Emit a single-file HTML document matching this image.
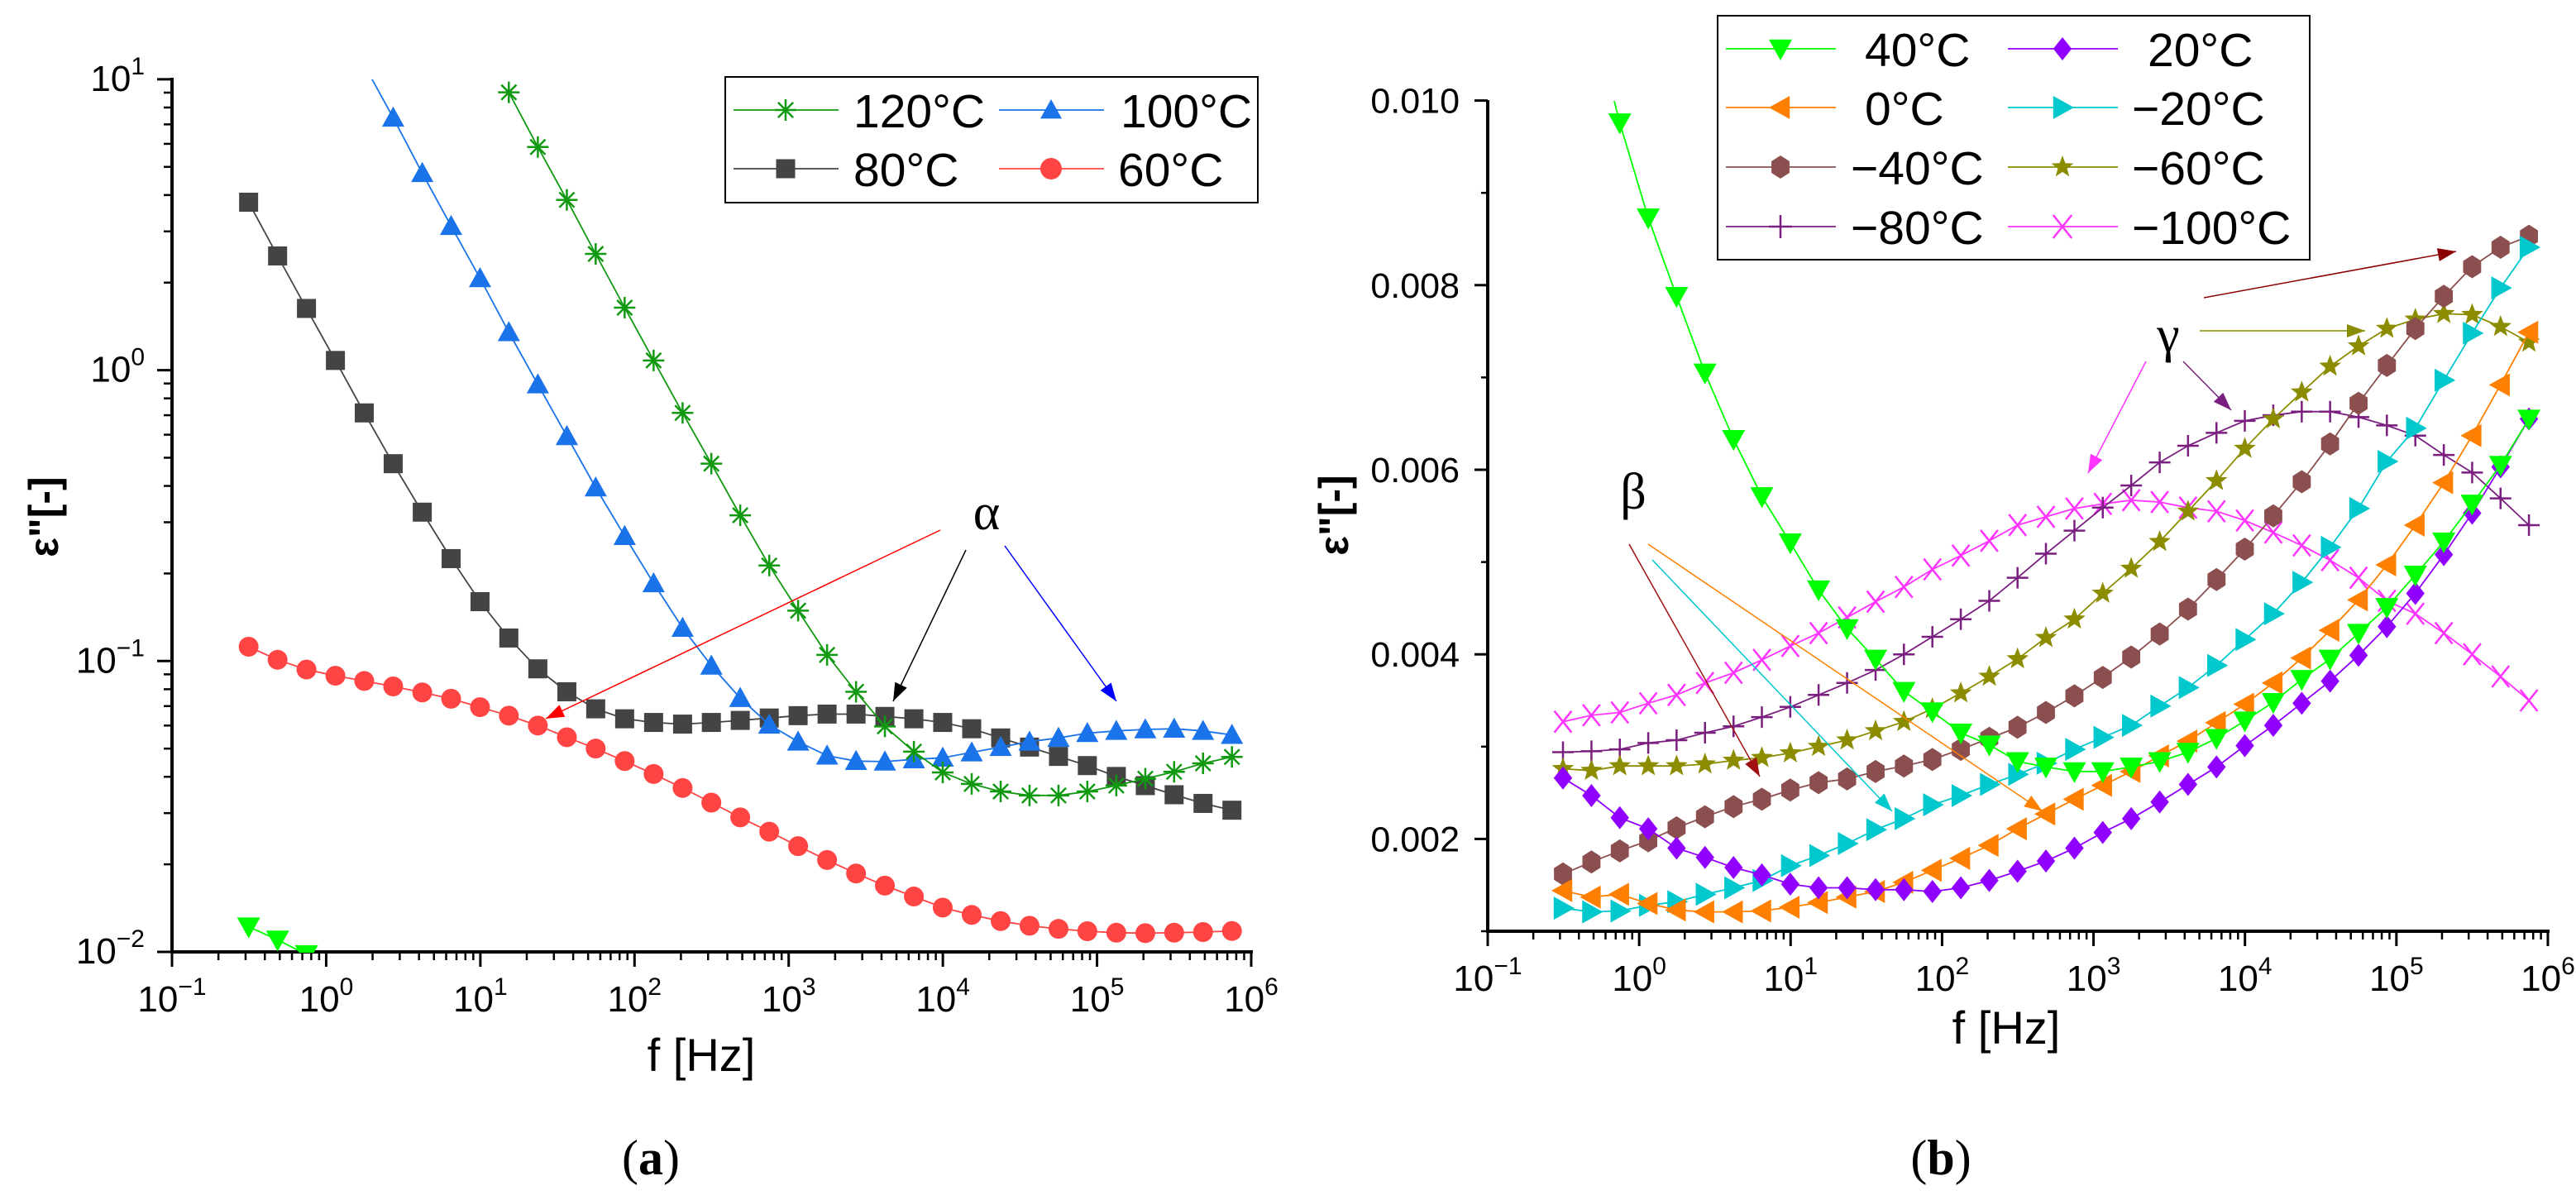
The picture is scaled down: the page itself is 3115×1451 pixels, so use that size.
<!DOCTYPE html>
<html><head><meta charset="utf-8"><style>
html,body{margin:0;padding:0;background:#fff;}
svg{display:block;font-family:"Liberation Sans",sans-serif;}
</style></head><body>
<svg id="fig" width="3115" height="1451" viewBox="0 0 3115 1451" xmlns="http://www.w3.org/2000/svg">
<defs>
<clipPath id="clipL"><rect x="208" y="94" width="1306" height="1058"/></clipPath>
<clipPath id="clipR"><rect x="1799" y="120" width="1283" height="1007"/></clipPath>
</defs>
<g id="panelA"></g>
<g id="panelB"></g>
<text x="787" y="1420" font-family="Liberation Serif, serif" font-size="60" text-anchor="middle">(<tspan font-weight="bold">a</tspan>)</text>
<text x="2347" y="1420" font-family="Liberation Serif, serif" font-size="60" text-anchor="middle">(<tspan font-weight="bold">b</tspan>)</text>
</svg>
<script>
const freqs=[0.314,0.484,0.745,1.148,1.766,2.72,4.2,6.46,9.95,15.3,23.6,36.4,56,86.3,133,205,315,485,748,1151,1774,2735,4207,6486,9977,15380,23710,36480,56230,86500,133350,205590,316230,486970,749900];
const a120=[9.02,5.85,3.85,2.51,1.64,1.08,0.713,0.477,0.317,0.213,0.149,0.105,0.0784,0.0596,0.0488,0.0414,0.0378,0.0356,0.0345,0.0345,0.0356,0.0373,0.0394,0.0416,0.0445,0.0468];
const a100=[7.38,4.76,3.13,2.07,1.35,0.893,0.593,0.395,0.269,0.185,0.130,0.0964,0.0746,0.0604,0.0528,0.0473,0.0453,0.0451,0.0459,0.0465,0.0485,0.0506,0.0528,0.0544,0.0565,0.0575,0.0582,0.0585,0.0575,0.0557];
const a80=[3.78,2.47,1.63,1.08,0.713,0.477,0.325,0.225,0.160,0.120,0.094,0.0784,0.0685,0.0633,0.0615,0.0607,0.0615,0.0625,0.0637,0.0649,0.0657,0.0657,0.0645,0.0633,0.0615,0.0585,0.0544,0.0506,0.047,0.0437,0.0401,0.0373,0.0347,0.0324,0.0307];
const a60=[0.112,0.101,0.0935,0.089,0.0854,0.0818,0.078,0.0742,0.0694,0.0649,0.060,0.0547,0.050,0.0453,0.0409,0.0366,0.0326,0.029,0.0259,0.0231,0.0207,0.0186,0.0169,0.0155,0.0142,0.0134,0.01276,0.0123,0.0120,0.01178,0.01164,0.0116,0.01164,0.0117,0.0118];
const a40=[0.0122,0.0110,0.0098];
const b40=[0.00976,0.00873,0.00788,0.00705,0.00633,0.00571,0.00521,0.0047,0.00428,0.00395,0.0036,0.00338,0.00315,0.00302,0.00284,0.00278,0.00273,0.00273,0.00278,0.00284,0.00294,0.00309,0.00328,0.00348,0.00373,0.00395,0.00423,0.00451,0.00486,0.00522,0.00563,0.00605,0.00655];
const b20=[0.00266,0.00247,0.00223,0.00211,0.0019,0.0018,0.00169,0.00161,0.00151,0.00147,0.00147,0.00145,0.00145,0.00143,0.00147,0.00155,0.00165,0.00176,0.0019,0.00207,0.00222,0.0024,0.00259,0.00278,0.00301,0.00323,0.00347,0.00371,0.00399,0.0043,0.00466,0.00508,0.00553,0.00603,0.00655];
const b0=[0.00144,0.00137,0.0014,0.0013,0.00123,0.00121,0.00121,0.00122,0.00126,0.00131,0.00137,0.00143,0.00153,0.00166,0.00179,0.00193,0.00211,0.00227,0.00243,0.00258,0.00273,0.0029,0.00306,0.00326,0.00346,0.00369,0.00396,0.00426,0.00459,0.00497,0.0054,0.00586,0.00637,0.00692,0.00749];
const bm20=[0.00125,0.00121,0.00122,0.00128,0.00132,0.0014,0.00147,0.00155,0.00171,0.00182,0.00195,0.0021,0.00222,0.00237,0.00247,0.00259,0.0027,0.00282,0.00297,0.0031,0.00323,0.00344,0.00364,0.00388,0.00416,0.00444,0.00478,0.00516,0.00558,0.00609,0.00645,0.00697,0.00748,0.00797,0.00841];
const bm40=[0.00162,0.00175,0.00187,0.00198,0.00212,0.00224,0.00235,0.00243,0.00253,0.00261,0.00265,0.00273,0.00279,0.00286,0.00297,0.00309,0.00321,0.00337,0.00355,0.00375,0.00397,0.00422,0.00449,0.00481,0.00514,0.0055,0.00587,0.00628,0.00672,0.00713,0.00753,0.00788,0.0082,0.00841,0.00853];
const bm60=[0.00276,0.00274,0.00279,0.00279,0.00279,0.00281,0.00285,0.00288,0.00293,0.003,0.00307,0.00317,0.00327,0.00341,0.00358,0.00376,0.00395,0.00418,0.00438,0.00466,0.00493,0.00522,0.00555,0.00588,0.00623,0.00655,0.00684,0.00712,0.00734,0.00753,0.00763,0.00769,0.00768,0.00755,0.00738];
const bm80=[0.00294,0.00295,0.00297,0.00304,0.00307,0.00315,0.00322,0.00332,0.00343,0.00356,0.00369,0.00383,0.004,0.00419,0.00438,0.00458,0.00483,0.00509,0.00534,0.00559,0.00583,0.00608,0.00626,0.0064,0.00653,0.00659,0.00663,0.00663,0.00657,0.00648,0.00637,0.00616,0.00597,0.00569,0.0054];
const bm100=[0.00327,0.00334,0.00337,0.00347,0.00356,0.00369,0.0038,0.00394,0.00409,0.00423,0.0044,0.00457,0.00473,0.00492,0.00507,0.00523,0.0054,0.00549,0.00558,0.00563,0.00567,0.00565,0.00559,0.00555,0.00545,0.00532,0.00518,0.00502,0.00483,0.00458,0.00444,0.00423,0.004,0.00376,0.0035];
const xTickExp=[-1,0,1,2,3,4,5,6];
const yTickExpA=[-2,-1,0,1];
const yTicksB=[0.002,0.004,0.006,0.008,0.010];
const yTickLabelsB=["0.002","0.004","0.006","0.008","0.010"];

const NS="http://www.w3.org/2000/svg";
function mk(parent,tag,attrs){const e=document.createElementNS(NS,tag);for(const k in attrs)e.setAttribute(k,attrs[k]);parent.appendChild(e);return e;}
const xL=f=>208+186.43*(Math.log10(f)+1);
const yL=v=>1151-351.7*(Math.log10(v)+2);
const xR=f=>1799+183.14*(Math.log10(f)+1);
const yR=v=>1126-(v-0.001)*111600;

function marker(g,type,x,y,s,color){
  let e;const h=s/2;
  if(type==='square'){e=mk(g,'rect',{x:x-h,y:y-h,width:s,height:s,fill:color});}
  else if(type==='circle'){e=mk(g,'circle',{cx:x,cy:y,r:h,fill:color});}
  else if(type==='tu'){e=mk(g,'path',{d:`M${x},${y-h} L${x+h},${y+h*0.8} L${x-h},${y+h*0.8}Z`,fill:color});}
  else if(type==='td'){e=mk(g,'path',{d:`M${x},${y+h} L${x+h},${y-h*0.8} L${x-h},${y-h*0.8}Z`,fill:color});}
  else if(type==='tl'){e=mk(g,'path',{d:`M${x-h},${y} L${x+h*0.8},${y-h} L${x+h*0.8},${y+h}Z`,fill:color});}
  else if(type==='tr'){e=mk(g,'path',{d:`M${x+h},${y} L${x-h*0.8},${y-h} L${x-h*0.8},${y+h}Z`,fill:color});}
  else if(type==='diamond'){e=mk(g,'path',{d:`M${x},${y-h} L${x+h*0.8},${y} L${x},${y+h} L${x-h*0.8},${y}Z`,fill:color});}
  else if(type==='hex'){let d='';for(let k=0;k<6;k++){const a=Math.PI/6+k*Math.PI/3;d+=(k?'L':'M')+(x+h*0.9*Math.cos(a))+','+(y+h*Math.sin(a));}e=mk(g,'path',{d:d+'Z',fill:color});}
  else if(type==='star'){let d='';for(let k=0;k<10;k++){const r=k%2?h*0.42:h;const a=-Math.PI/2+k*Math.PI/5;d+=(k?'L':'M')+(x+r*Math.cos(a))+','+(y+r*Math.sin(a));}e=mk(g,'path',{d:d+'Z',fill:color});}
  else if(type==='aster'){e=mk(g,'path',{d:`M${x},${y-h}V${y+h}M${x-h},${y}H${x+h}M${x-h*.7},${y-h*.7}L${x+h*.7},${y+h*.7}M${x-h*.7},${y+h*.7}L${x+h*.7},${y-h*.7}`,stroke:color,'stroke-width':2.5,fill:'none'});}
  else if(type==='plus'){e=mk(g,'path',{d:`M${x},${y-h}V${y+h}M${x-h},${y}H${x+h}`,stroke:color,'stroke-width':2.5,fill:'none'});}
  else if(type==='cross'){e=mk(g,'path',{d:`M${x-h*.8},${y-h}L${x+h*.8},${y+h}M${x-h*.8},${y+h}L${x+h*.8},${y-h}`,stroke:color,'stroke-width':2.5,fill:'none'});}
  return e;
}
function series(panel,clip,name,vals,start,xf,yf,type,size,color){
  const g=mk(panel,'g',{'clip-path':`url(#${clip})`});
  
  
  let d='';
  vals.forEach((v,i)=>{d+=(i?'L':'M')+xf(freqs[start+i]).toFixed(1)+','+yf(v).toFixed(1);});
  const ln=mk(g,'path',{d:d,fill:'none',stroke:color,'stroke-width':1.8});
  
  
  vals.forEach((v,i)=>{const m=marker(g,type,xf(freqs[start+i]),yf(v),size,color);
    
    });
}
function tickLabel(g,x,y,exp,anchor,name){
  const t=mk(g,'text',{x:x,y:y,'font-size':44,'text-anchor':anchor});
  
  
  t.innerHTML='10<tspan font-size="30" dy="-20">'+(exp<0?'\u2212'+(-exp):exp)+'</tspan>';
}
function xAxis(g,x0,x1,y,xf,name){
  const ax=mk(g,'line',{x1:x0,y1:y,x2:x1+2,y2:y,stroke:'#000','stroke-width':4});
  
  
  xTickExp.forEach(e=>{const x=xf(Math.pow(10,e));
    const t=mk(g,'line',{x1:x,y1:y,x2:x,y2:y+18,stroke:'#000','stroke-width':3});
    
    
    tickLabel(g,x,y+72,e,'middle','x-tick-label');
    if(e<6){for(let m=2;m<10;m++){const xm=xf(m*Math.pow(10,e));mk(g,'line',{x1:xm,y1:y,x2:xm,y2:y+10,stroke:'#000','stroke-width':2.5});}}
  });
}
const A=document.getElementById('panelA');
xAxis(A,208,1513,1151,xL,'panel-a');
const yaxA=mk(A,'line',{x1:208,y1:94,x2:208,y2:1153,stroke:'#000','stroke-width':4});


yTickExpA.forEach(e=>{const y=yL(Math.pow(10,e));
  mk(A,'line',{x1:190,y1:y,x2:208,y2:y,stroke:'#000','stroke-width':3});
  tickLabel(A,175,y+14,e,'end','y-tick-label');
  if(e<1){for(let m=2;m<10;m++){const ym=yL(m*Math.pow(10,e));mk(A,'line',{x1:198,y1:ym,x2:208,y2:ym,stroke:'#000','stroke-width':2.5});}}
});
series(A,'clipL','series-40c-a',a40,0,xL,yL,'td',28,'#00ff00');
series(A,'clipL','series-60c',a60,0,xL,yL,'circle',24,'#f44');
series(A,'clipL','series-80c',a80,0,xL,yL,'square',23,'#444');
series(A,'clipL','series-100c',a100,5,xL,yL,'tu',27,'#1a73e8');
series(A,'clipL','series-120c',a120,9,xL,yL,'aster',26,'#119911');
mk(A,'line',{x1:450,y1:96,x2:xL(freqs[5]),y2:yL(a100[0]),stroke:'#1a73e8','stroke-width':1.8});
function arrow(g,x1,y1,x2,y2,color,name){
  const gg=mk(g,'g',{});
  
  
  mk(gg,'line',{x1:x1,y1:y1,x2:x2,y2:y2,stroke:color,'stroke-width':1.5});
  const a=Math.atan2(y2-y1,x2-x1),L=22,W=8;
  const bx=x2-L*Math.cos(a),by=y2-L*Math.sin(a);
  mk(gg,'path',{d:`M${x2},${y2} L${bx+W*Math.sin(a)},${by-W*Math.cos(a)} L${bx-W*Math.sin(a)},${by+W*Math.cos(a)}Z`,fill:color});
}
arrow(A,1137,641,660,869,'#f00','alpha-arrow-60c');
arrow(A,1168,665,1080,848,'#000','alpha-arrow-80c');
arrow(A,1215,660,1350,848,'#00f','alpha-arrow-100c');
{const t=mk(A,'text',{x:1193,y:640,'font-size':62,'font-family':'Liberation Serif, serif','text-anchor':'middle'});t.textContent='α';

}
{const t=mk(A,'text',{x:848,y:1295,'font-size':56,'text-anchor':'middle'});t.textContent='f [Hz]';

}
{const t=mk(A,'text',{x:0,y:0,'font-size':50,'font-weight':'bold','text-anchor':'middle',transform:'translate(70,625) rotate(-90)'});t.textContent='ε"[-]';

}
const legA=mk(A,'g',{});


mk(legA,'rect',{x:877,y:93,width:644,height:152,fill:'#fff',stroke:'#000','stroke-width':2});
[['120°C','aster','#119911',887,1032,133],['100°C','tu','#1a73e8',1208,1355,133],['80°C','square','#444',887,1032,204],['60°C','circle','#f44',1208,1352,204]].forEach(r=>{
  const e=mk(legA,'g',{});
  
  
  mk(e,'line',{x1:r[3],y1:r[5],x2:r[3]+127,y2:r[5],stroke:r[2],'stroke-width':1.8});
  marker(e,r[1],r[3]+63,r[5],r[1]==='square'?23:26,r[2]);
  const t=mk(e,'text',{x:r[4],y:r[5]+21,'font-size':57});t.textContent=r[0];
});
const B=document.getElementById('panelB');
xAxis(B,1799,3081,1126,xR,'panel-b');
const yaxB=mk(B,'line',{x1:1799,y1:121,x2:1799,y2:1128,stroke:'#000','stroke-width':4});


for(let k=1;k<=9;k++){const y=yR(k*0.001);mk(B,'line',{x1:1791,y1:y,x2:1799,y2:y,stroke:'#000','stroke-width':2.5});}
yTicksB.forEach((v,i)=>{const y=yR(v);
  mk(B,'line',{x1:1783,y1:y,x2:1799,y2:y,stroke:'#000','stroke-width':3});
  const t=mk(B,'text',{x:1765,y:y+15,'font-size':43,'text-anchor':'end'});t.textContent=yTickLabelsB[i];
  
  
});
series(B,'clipR','series-m100c',bm100,0,xR,yR,'cross',26,'#ff33ff');
series(B,'clipR','series-m80c',bm80,0,xR,yR,'plus',26,'#7a1f80');
series(B,'clipR','series-m60c',bm60,0,xR,yR,'star',28,'#8c8c00');
series(B,'clipR','series-m40c',bm40,0,xR,yR,'hex',28,'#8b4f4f');
series(B,'clipR','series-m20c',bm20,0,xR,yR,'tr',28,'#00c8cc');
series(B,'clipR','series-0c',b0,0,xR,yR,'tl',28,'#ff8000');
series(B,'clipR','series-20c',b20,0,xR,yR,'diamond',28,'#9000ff');
series(B,'clipR','series-40c',b40,2,xR,yR,'td',28,'#00ff00');
mk(B,'line',{x1:1952,y1:122,x2:xR(freqs[2]),y2:yR(b40[0]),stroke:'#00ff00','stroke-width':1.8});
arrow(B,2665,360,2970,304,'#8b0000','gamma-arrow-m40c');
arrow(B,2660,400,2860,400,'#8c8c00','gamma-arrow-m60c');
arrow(B,2640,437,2698,496,'#7a1f80','gamma-arrow-m80c');
arrow(B,2595,437,2525,572,'#ff33ff','gamma-arrow-m100c');
arrow(B,1970,658,2128,939,'#a01010','beta-arrow-m60c');
arrow(B,1998,677,2288,981,'#00c8cc','beta-arrow-m20c');
arrow(B,1993,658,2470,981,'#ff8000','beta-arrow-0c');
{const t=mk(B,'text',{x:2622,y:425,'font-size':62,'font-family':'Liberation Serif, serif','text-anchor':'middle'});t.textContent='γ';

}
{const t=mk(B,'text',{x:1975,y:615,'font-size':62,'font-family':'Liberation Serif, serif','text-anchor':'middle'});t.textContent='β';

}
{const t=mk(B,'text',{x:2426,y:1262,'font-size':56,'text-anchor':'middle'});t.textContent='f [Hz]';

}
{const t=mk(B,'text',{x:0,y:0,'font-size':50,'font-weight':'bold','text-anchor':'middle',transform:'translate(1630,623) rotate(-90)'});t.textContent='ε"[-]';

}
const legB=mk(B,'g',{});


mk(legB,'rect',{x:2077,y:19,width:716,height:295,fill:'#fff',stroke:'#000','stroke-width':2});
[['40°C','td','#00ff00',2087,2255,59],['20°C','diamond','#9000ff',2428,2597,59],
 ['0°C','tl','#ff8000',2087,2255,130],['\u221220°C','tr','#00c8cc',2428,2578,130],
 ['\u221240°C','hex','#8b4f4f',2087,2238,202],['\u221260°C','star','#8c8c00',2428,2578,202],
 ['\u221280°C','plus','#7a1f80',2087,2238,274],['\u2212100°C','cross','#ff33ff',2428,2578,274]].forEach(r=>{
  const e=mk(legB,'g',{});
  
  
  mk(e,'line',{x1:r[3],y1:r[5],x2:r[3]+133,y2:r[5],stroke:r[2],'stroke-width':1.8});
  marker(e,r[1],r[3]+66,r[5],28,r[2]);
  const t=mk(e,'text',{x:r[4],y:r[5]+21,'font-size':57});t.textContent=r[0];
});
</script>
</body></html>
